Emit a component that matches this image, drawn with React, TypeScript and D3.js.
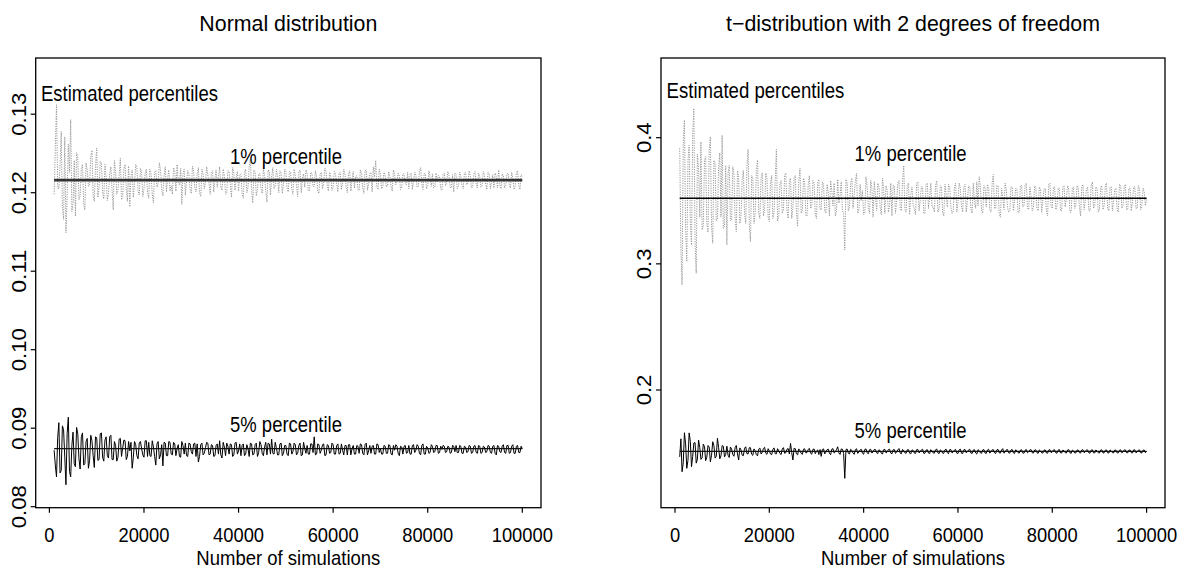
import React from 'react';
import * as d3 from 'd3';

// Number of simulations: main grid and the half-steps between them
const simulations = d3.range(1000, 100001, 500);
const simulationsMid = d3.range(1250, 100000, 500);

// Normal distribution: estimated 1% percentile (grey dotted)
const normalP1 = [
  0.1198, 0.1312, 0.1205, 0.1278, 0.1166, 0.1149, 0.1262, 0.1293, 0.1185, 0.1170,
  0.1245, 0.1196, 0.1236, 0.1178, 0.1228, 0.1211, 0.1254, 0.1189, 0.1257, 0.1206,
  0.1238, 0.1192, 0.1219, 0.1199, 0.1233, 0.1178, 0.1226, 0.1204, 0.1244, 0.1195,
  0.1236, 0.1189, 0.1182, 0.1229, 0.1211, 0.1232, 0.1197, 0.1227, 0.1205, 0.1230,
  0.1193, 0.1224, 0.1187, 0.1228, 0.1212, 0.1229, 0.1196, 0.1233, 0.1218, 0.1202,
  0.1198, 0.1228, 0.1236, 0.1210, 0.1185, 0.1230, 0.1214, 0.1224, 0.1199, 0.1227,
  0.1201, 0.1232, 0.1195, 0.1224, 0.1213, 0.1223, 0.1198, 0.1228, 0.1217, 0.1207,
  0.1233, 0.1203, 0.1221, 0.1200, 0.1227, 0.1194, 0.1225, 0.1219, 0.1202, 0.1224,
  0.1193, 0.1230, 0.1207, 0.1243, 0.1187, 0.1226, 0.1204, 0.1225, 0.1199, 0.1222,
  0.1188, 0.1227, 0.1220, 0.1205, 0.1230, 0.1200, 0.1225, 0.1211, 0.1228, 0.1201,
  0.1226, 0.1198, 0.1222, 0.1195, 0.1229, 0.1218, 0.1207, 0.1224, 0.1203, 0.1225,
  0.1208, 0.1221, 0.1199, 0.1226, 0.1213, 0.1227, 0.1202, 0.1222, 0.1207, 0.1224,
  0.1201, 0.1226, 0.1212, 0.1223, 0.1200, 0.1228, 0.1217, 0.1206, 0.1222, 0.1203,
  0.1225, 0.1199, 0.1229, 0.1211, 0.1226, 0.1233, 0.1241, 0.1204, 0.1224, 0.1208,
  0.1222, 0.1209, 0.1220, 0.1202, 0.1223, 0.1214, 0.1221, 0.1206, 0.1224, 0.1210,
  0.1205, 0.1225, 0.1215, 0.1222, 0.1208, 0.1232, 0.1204, 0.1223, 0.1209, 0.1220,
  0.1224, 0.1207, 0.1214, 0.1221, 0.1203, 0.1225, 0.1212, 0.1222, 0.1206, 0.1201,
  0.1223, 0.1208, 0.1221, 0.1205, 0.1226, 0.1213, 0.1222, 0.1207, 0.1227, 0.1206,
  0.1221, 0.1209, 0.1223, 0.1204, 0.1224, 0.1214, 0.1206, 0.1221, 0.1229, 0.1205,
  0.1222, 0.1209, 0.1225, 0.1206, 0.1219, 0.1208, 0.1228, 0.1204, 0.1220,
];
const normalP1Mid = [
  0.1256, 0.1206, 0.1236, 0.1181, 0.1271, 0.1196, 0.1226, 0.1176, 0.1241, 0.1251,
  0.1191, 0.1231, 0.1186, 0.1238, 0.1208, 0.1246, 0.1196, 0.1234, 0.1194, 0.1240,
  0.1201, 0.1236, 0.1190, 0.1224, 0.1204, 0.1241, 0.1198, 0.1222, 0.1191, 0.1231,
  0.1206, 0.1234, 0.1222, 0.1194, 0.1236, 0.1202, 0.1231, 0.1195, 0.1225, 0.1200,
  0.1230, 0.1198, 0.1226, 0.1207, 0.1238, 0.1203, 0.1222, 0.1201, 0.1229, 0.1209,
  0.1232, 0.1202, 0.1212, 0.1231, 0.1225, 0.1197, 0.1228, 0.1204, 0.1234, 0.1206,
  0.1224, 0.1200, 0.1230, 0.1205, 0.1233, 0.1212, 0.1226, 0.1201, 0.1229, 0.1221,
  0.1207, 0.1230, 0.1198, 0.1228, 0.1210, 0.1232, 0.1203, 0.1227, 0.1222, 0.1199,
  0.1226, 0.1200, 0.1234, 0.1204, 0.1229, 0.1196, 0.1223, 0.1205, 0.1231, 0.1202,
  0.1229, 0.1197, 0.1232, 0.1208, 0.1221, 0.1228, 0.1199, 0.1230, 0.1206, 0.1227,
  0.1204, 0.1230, 0.1209, 0.1227, 0.1200, 0.1224, 0.1229, 0.1202, 0.1226, 0.1208,
  0.1228, 0.1202, 0.1224, 0.1205, 0.1231, 0.1210, 0.1226, 0.1203, 0.1227, 0.1211,
  0.1225, 0.1204, 0.1230, 0.1207, 0.1224, 0.1202, 0.1227, 0.1220, 0.1204, 0.1229,
  0.1206, 0.1228, 0.1203, 0.1224, 0.1201, 0.1220, 0.1207, 0.1230, 0.1205, 0.1226,
  0.1207, 0.1227, 0.1208, 0.1229, 0.1210, 0.1225, 0.1204, 0.1224, 0.1212, 0.1226,
  0.1223, 0.1204, 0.1226, 0.1207, 0.1227, 0.1211, 0.1225, 0.1205, 0.1228, 0.1208,
  0.1206, 0.1225, 0.1222, 0.1205, 0.1224, 0.1209, 0.1227, 0.1207, 0.1223, 0.1225,
  0.1205, 0.1226, 0.1209, 0.1225, 0.1210, 0.1228, 0.1206, 0.1224, 0.1211, 0.1225,
  0.1207, 0.1227, 0.1211, 0.1226, 0.1205, 0.1223, 0.1225, 0.1206, 0.1210, 0.1224,
  0.1206, 0.1224, 0.1210, 0.1226, 0.1204, 0.1225, 0.1209, 0.1223,
];

// Normal distribution: estimated 5% percentile (black)
const normalP5 = [
  0.0872, 0.0838, 0.0907, 0.0846, 0.0898, 0.0828, 0.0914, 0.0838, 0.0895, 0.0851,
  0.0893, 0.0848, 0.0894, 0.0855, 0.0887, 0.0859, 0.0884, 0.0850, 0.0888, 0.0860,
  0.0894, 0.0858, 0.0889, 0.0862, 0.0891, 0.0860, 0.0878, 0.0863, 0.0887, 0.0875,
  0.0884, 0.0864, 0.0871, 0.0849, 0.0883, 0.0865, 0.0881, 0.0874, 0.0863, 0.0884,
  0.0882, 0.0864, 0.0876, 0.0853, 0.0883, 0.0866, 0.0852, 0.0881, 0.0865, 0.0882,
  0.0866, 0.0880, 0.0874, 0.0864, 0.0883, 0.0867, 0.0865, 0.0881, 0.0870, 0.0880,
  0.0864, 0.0857, 0.0879, 0.0866, 0.0875, 0.0881, 0.0867, 0.0878, 0.0865, 0.0880,
  0.0884, 0.0862, 0.0876, 0.0881, 0.0867, 0.0879, 0.0866, 0.0882, 0.0871, 0.0865,
  0.0880, 0.0867, 0.0874, 0.0881, 0.0866, 0.0879, 0.0864, 0.0883, 0.0868, 0.0876,
  0.0866, 0.0880, 0.0886, 0.0867, 0.0875, 0.0866, 0.0881, 0.0868, 0.0878, 0.0865,
  0.0880, 0.0870, 0.0879, 0.0868, 0.0881, 0.0866, 0.0874, 0.0878, 0.0867, 0.0880,
  0.0889, 0.0867, 0.0879, 0.0872, 0.0880, 0.0866, 0.0878, 0.0869, 0.0879, 0.0867,
  0.0880, 0.0868, 0.0872, 0.0878, 0.0866, 0.0879, 0.0874, 0.0867, 0.0878, 0.0868,
  0.0879, 0.0866, 0.0881, 0.0871, 0.0868, 0.0878, 0.0867, 0.0879, 0.0874, 0.0867,
  0.0877, 0.0868, 0.0878, 0.0866, 0.0872, 0.0877, 0.0865, 0.0876, 0.0877, 0.0868,
  0.0878, 0.0867, 0.0879, 0.0872, 0.0877, 0.0866, 0.0880, 0.0867, 0.0875, 0.0869,
  0.0877, 0.0870, 0.0878, 0.0869, 0.0873, 0.0877, 0.0870, 0.0876, 0.0869, 0.0877,
  0.0878, 0.0869, 0.0877, 0.0868, 0.0876, 0.0870, 0.0877, 0.0869, 0.0878, 0.0868,
  0.0877, 0.0869, 0.0876, 0.0870, 0.0877, 0.0868, 0.0878, 0.0866, 0.0877, 0.0869,
  0.0879, 0.0868, 0.0878, 0.0869, 0.0879, 0.0868, 0.0878, 0.0869, 0.0874,
];
const normalP5Mid = [
  0.0853, 0.0888, 0.0843, 0.0903, 0.0863, 0.0893, 0.0845, 0.0878, 0.0855, 0.0901,
  0.0861, 0.0889, 0.0853, 0.0883, 0.0849, 0.0891, 0.0865, 0.0889, 0.0859, 0.0893,
  0.0863, 0.0885, 0.0865, 0.0889, 0.0860, 0.0883, 0.0858, 0.0886, 0.0864, 0.0885,
  0.0860, 0.0883, 0.0882, 0.0863, 0.0879, 0.0861, 0.0883, 0.0866, 0.0884, 0.0864,
  0.0865, 0.0884, 0.0864, 0.0880, 0.0861, 0.0879, 0.0882, 0.0865, 0.0883, 0.0867,
  0.0882, 0.0865, 0.0879, 0.0863, 0.0878, 0.0881, 0.0864, 0.0880, 0.0867, 0.0881,
  0.0880, 0.0864, 0.0881, 0.0868, 0.0882, 0.0866, 0.0879, 0.0864, 0.0878, 0.0867,
  0.0866, 0.0882, 0.0865, 0.0877, 0.0880, 0.0864, 0.0881, 0.0867, 0.0880, 0.0878,
  0.0865, 0.0879, 0.0864, 0.0880, 0.0867, 0.0881, 0.0869, 0.0879, 0.0865, 0.0882,
  0.0881, 0.0867, 0.0868, 0.0882, 0.0866, 0.0880, 0.0865, 0.0878, 0.0867, 0.0881,
  0.0867, 0.0881, 0.0866, 0.0878, 0.0865, 0.0882, 0.0868, 0.0867, 0.0880, 0.0869,
  0.0866, 0.0880, 0.0868, 0.0879, 0.0865, 0.0879, 0.0868, 0.0881, 0.0867, 0.0878,
  0.0867, 0.0880, 0.0866, 0.0878, 0.0879, 0.0866, 0.0878, 0.0867, 0.0877, 0.0880,
  0.0868, 0.0879, 0.0866, 0.0878, 0.0877, 0.0867, 0.0880, 0.0869, 0.0867, 0.0878,
  0.0868, 0.0879, 0.0867, 0.0878, 0.0879, 0.0868, 0.0877, 0.0867, 0.0878, 0.0869,
  0.0867, 0.0878, 0.0869, 0.0879, 0.0868, 0.0878, 0.0867, 0.0877, 0.0868, 0.0879,
  0.0869, 0.0878, 0.0868, 0.0877, 0.0878, 0.0869, 0.0877, 0.0868, 0.0878, 0.0870,
  0.0869, 0.0878, 0.0868, 0.0877, 0.0869, 0.0878, 0.0868, 0.0877, 0.0869, 0.0878,
  0.0868, 0.0877, 0.0869, 0.0878, 0.0869, 0.0877, 0.0868, 0.0878, 0.0870, 0.0877,
  0.0869, 0.0878, 0.0868, 0.0877, 0.0868, 0.0877, 0.0869, 0.0877,
];

// t-distribution (2 df): estimated 1% percentile (grey dotted)
const tP1 = [
  0.3916, 0.2833, 0.4140, 0.3017, 0.3940, 0.3150, 0.4233, 0.2925, 0.3750, 0.3968,
  0.3300, 0.3850, 0.3250, 0.4008, 0.3163, 0.3800, 0.3350, 0.3880, 0.4020, 0.3300,
  0.3150, 0.3780, 0.3350, 0.3720, 0.3255, 0.3690, 0.3380, 0.3740, 0.3320, 0.3908,
  0.3176, 0.3680, 0.3400, 0.3823, 0.3360, 0.3720, 0.3420, 0.3680, 0.3335, 0.3700,
  0.3410, 0.3908, 0.3380, 0.3660, 0.3430, 0.3720, 0.3360, 0.3680, 0.3440, 0.3700,
  0.3295, 0.3757, 0.3420, 0.3650, 0.3380, 0.3700, 0.3450, 0.3640, 0.3360, 0.3670,
  0.3430, 0.3630, 0.3400, 0.3560, 0.3660, 0.3460, 0.3380, 0.3670, 0.3540, 0.3420,
  0.3110, 0.3640, 0.3450, 0.3680, 0.3550, 0.3718, 0.3430, 0.3500, 0.3390, 0.3690,
  0.3440, 0.3660, 0.3370, 0.3540, 0.3640, 0.3450, 0.3680, 0.3400, 0.3580, 0.3460,
  0.3380, 0.3620, 0.3500, 0.3660, 0.3420, 0.3780, 0.3410, 0.3640, 0.3550, 0.3460,
  0.3390, 0.3650, 0.3500, 0.3610, 0.3400, 0.3640, 0.3530, 0.3450, 0.3410, 0.3660,
  0.3440, 0.3610, 0.3380, 0.3540, 0.3630, 0.3450, 0.3420, 0.3640, 0.3490, 0.3600,
  0.3410, 0.3630, 0.3500, 0.3610, 0.3400, 0.3490, 0.3650, 0.3690, 0.3420, 0.3620,
  0.3450, 0.3600, 0.3410, 0.3710, 0.3440, 0.3620, 0.3370, 0.3530, 0.3640, 0.3450,
  0.3420, 0.3610, 0.3500, 0.3590, 0.3410, 0.3620, 0.3460, 0.3640, 0.3430, 0.3540,
  0.3450, 0.3610, 0.3420, 0.3590, 0.3510, 0.3600, 0.3380, 0.3640, 0.3440, 0.3610,
  0.3460, 0.3600, 0.3420, 0.3620, 0.3530, 0.3590, 0.3410, 0.3610, 0.3460, 0.3600,
  0.3380, 0.3630, 0.3500, 0.3610, 0.3420, 0.3650, 0.3460, 0.3600, 0.3430, 0.3620,
  0.3460, 0.3640, 0.3420, 0.3610, 0.3500, 0.3600, 0.3410, 0.3620, 0.3460, 0.3630,
  0.3430, 0.3600, 0.3500, 0.3610, 0.3440, 0.3590, 0.3460, 0.3570, 0.3520,
];
const tP1Mid = [
  0.3120, 0.3970, 0.3270, 0.3820, 0.3320, 0.4020, 0.3170, 0.3870, 0.3370, 0.3270,
  0.3820, 0.3320, 0.3900, 0.3300, 0.3820, 0.3340, 0.3770, 0.3370, 0.3280, 0.3780,
  0.3720, 0.3340, 0.3770, 0.3360, 0.3740, 0.3320, 0.3670, 0.3400, 0.3770, 0.3300,
  0.3700, 0.3320, 0.3740, 0.3400, 0.3680, 0.3380, 0.3720, 0.3370, 0.3640, 0.3360,
  0.3670, 0.3340, 0.3640, 0.3400, 0.3700, 0.3420, 0.3660, 0.3360, 0.3680, 0.3400,
  0.3660, 0.3400, 0.3680, 0.3380, 0.3630, 0.3440, 0.3660, 0.3390, 0.3640, 0.3430,
  0.3650, 0.3420, 0.3630, 0.3380, 0.3580, 0.3640, 0.3420, 0.3480, 0.3650, 0.3400,
  0.3670, 0.3420, 0.3640, 0.3440, 0.3660, 0.3400, 0.3630, 0.3580, 0.3400, 0.3610,
  0.3400, 0.3600, 0.3650, 0.3420, 0.3610, 0.3390, 0.3590, 0.3620, 0.3410, 0.3640,
  0.3620, 0.3400, 0.3640, 0.3440, 0.3650, 0.3430, 0.3620, 0.3390, 0.3610, 0.3440,
  0.3640, 0.3420, 0.3610, 0.3400, 0.3630, 0.3440, 0.3640, 0.3450, 0.3620, 0.3410,
  0.3620, 0.3400, 0.3630, 0.3450, 0.3610, 0.3400, 0.3600, 0.3410, 0.3640, 0.3460,
  0.3610, 0.3410, 0.3620, 0.3430, 0.3640, 0.3440, 0.3460, 0.3620, 0.3400, 0.3600,
  0.3630, 0.3430, 0.3640, 0.3440, 0.3620, 0.3390, 0.3600, 0.3430, 0.3590, 0.3410,
  0.3610, 0.3420, 0.3600, 0.3400, 0.3620, 0.3450, 0.3630, 0.3440, 0.3610, 0.3420,
  0.3620, 0.3440, 0.3610, 0.3410, 0.3590, 0.3420, 0.3630, 0.3450, 0.3610, 0.3430,
  0.3600, 0.3420, 0.3610, 0.3450, 0.3620, 0.3410, 0.3600, 0.3440, 0.3620, 0.3450,
  0.3610, 0.3430, 0.3590, 0.3420, 0.3620, 0.3440, 0.3610, 0.3410, 0.3600, 0.3430,
  0.3620, 0.3440, 0.3610, 0.3420, 0.3590, 0.3430, 0.3630, 0.3440, 0.3610, 0.3430,
  0.3600, 0.3420, 0.3610, 0.3440, 0.3620, 0.3430, 0.3600, 0.3460,
];

// t-distribution (2 df): estimated 5% percentile (black)
const tP5 = [
  0.1470, 0.1352, 0.1661, 0.1379, 0.1660, 0.1392, 0.1580, 0.1420, 0.1603, 0.1450,
  0.1570, 0.1440, 0.1560, 0.1431, 0.1590, 0.1460, 0.1617, 0.1455, 0.1560, 0.1470,
  0.1555, 0.1465, 0.1533, 0.1475, 0.1560, 0.1445, 0.1525, 0.1480, 0.1550, 0.1493,
  0.1542, 0.1482, 0.1519, 0.1478, 0.1540, 0.1505, 0.1546, 0.1490, 0.1518, 0.1487,
  0.1541, 0.1494, 0.1517, 0.1488, 0.1543, 0.1503, 0.1536, 0.1577, 0.1445, 0.1535,
  0.1486, 0.1519, 0.1490, 0.1534, 0.1505, 0.1537, 0.1491, 0.1532, 0.1516, 0.1488,
  0.1474, 0.1533, 0.1507, 0.1531, 0.1487, 0.1535, 0.1509, 0.1550, 0.1489, 0.1530,
  0.1300, 0.1532, 0.1493, 0.1521, 0.1490, 0.1534, 0.1508, 0.1529, 0.1491, 0.1533,
  0.1495, 0.1530, 0.1510, 0.1528, 0.1496, 0.1519, 0.1493, 0.1529, 0.1509, 0.1531,
  0.1494, 0.1528, 0.1507, 0.1536, 0.1495, 0.1516, 0.1498, 0.1527, 0.1494, 0.1521,
  0.1497, 0.1528, 0.1511, 0.1530, 0.1498, 0.1527, 0.1496, 0.1517, 0.1499, 0.1532,
  0.1496, 0.1518, 0.1498, 0.1530, 0.1495, 0.1527, 0.1509, 0.1529, 0.1497, 0.1531,
  0.1496, 0.1528, 0.1510, 0.1530, 0.1497, 0.1527, 0.1492, 0.1519, 0.1498, 0.1528,
  0.1497, 0.1530, 0.1509, 0.1527, 0.1496, 0.1529, 0.1500, 0.1535, 0.1508, 0.1528,
  0.1499, 0.1527, 0.1497, 0.1518, 0.1500, 0.1526, 0.1498, 0.1528, 0.1511, 0.1527,
  0.1500, 0.1526, 0.1498, 0.1517, 0.1500, 0.1525, 0.1499, 0.1527, 0.1510, 0.1526,
  0.1499, 0.1528, 0.1501, 0.1518, 0.1500, 0.1527, 0.1498, 0.1517, 0.1501, 0.1524,
  0.1500, 0.1527, 0.1511, 0.1525, 0.1499, 0.1526, 0.1501, 0.1516, 0.1500, 0.1526,
  0.1502, 0.1525, 0.1500, 0.1517, 0.1501, 0.1524, 0.1502, 0.1526, 0.1510, 0.1525,
  0.1502, 0.1524, 0.1501, 0.1526, 0.1510, 0.1525, 0.1501, 0.1524, 0.1513,
];
const tP5Mid = [
  0.1613, 0.1423, 0.1573, 0.1443, 0.1593, 0.1473, 0.1583, 0.1453, 0.1543, 0.1463,
  0.1553, 0.1468, 0.1548, 0.1483, 0.1558, 0.1473, 0.1543, 0.1478, 0.1553, 0.1488,
  0.1483, 0.1548, 0.1488, 0.1543, 0.1493, 0.1541, 0.1483, 0.1538, 0.1495, 0.1543,
  0.1491, 0.1533, 0.1488, 0.1531, 0.1493, 0.1537, 0.1498, 0.1535, 0.1493, 0.1530,
  0.1495, 0.1535, 0.1497, 0.1533, 0.1498, 0.1531, 0.1493, 0.1503, 0.1538, 0.1495,
  0.1533, 0.1498, 0.1531, 0.1501, 0.1529, 0.1499, 0.1530, 0.1495, 0.1525, 0.1528,
  0.1529, 0.1493, 0.1527, 0.1497, 0.1531, 0.1500, 0.1528, 0.1501, 0.1533, 0.1497,
  0.1528, 0.1499, 0.1530, 0.1500, 0.1527, 0.1497, 0.1525, 0.1499, 0.1529, 0.1501,
  0.1527, 0.1500, 0.1529, 0.1502, 0.1526, 0.1498, 0.1527, 0.1501, 0.1528, 0.1500,
  0.1526, 0.1498, 0.1525, 0.1499, 0.1529, 0.1502, 0.1526, 0.1499, 0.1525, 0.1500,
  0.1527, 0.1501, 0.1526, 0.1498, 0.1524, 0.1500, 0.1527, 0.1501, 0.1526, 0.1502,
  0.1525, 0.1499, 0.1526, 0.1502, 0.1527, 0.1501, 0.1524, 0.1500, 0.1525, 0.1499,
  0.1526, 0.1502, 0.1525, 0.1500, 0.1524, 0.1501, 0.1527, 0.1502, 0.1525, 0.1500,
  0.1524, 0.1500, 0.1525, 0.1502, 0.1526, 0.1501, 0.1524, 0.1499, 0.1525, 0.1502,
  0.1525, 0.1502, 0.1526, 0.1503, 0.1524, 0.1501, 0.1523, 0.1502, 0.1525, 0.1503,
  0.1524, 0.1503, 0.1525, 0.1502, 0.1523, 0.1501, 0.1524, 0.1503, 0.1525, 0.1502,
  0.1523, 0.1501, 0.1524, 0.1503, 0.1525, 0.1502, 0.1523, 0.1501, 0.1524, 0.1503,
  0.1524, 0.1503, 0.1525, 0.1502, 0.1523, 0.1502, 0.1525, 0.1503, 0.1524, 0.1501,
  0.1523, 0.1502, 0.1525, 0.1503, 0.1524, 0.1501, 0.1523, 0.1502, 0.1525, 0.1503,
  0.1524, 0.1503, 0.1525, 0.1502, 0.1523, 0.1502, 0.1523, 0.1503,
];

// True percentile reference lines
const normalRefP1 = 0.1216;
const normalRefP5 = 0.0874;
const tRefP1 = 0.352;
const tRefP5 = 0.1513;

// Tick values / labels
const xTicks = [0, 20000, 40000, 60000, 80000, 100000];
const normalYTicks = [0.08, 0.09, 0.1, 0.11, 0.12, 0.13];
const normalYLabels = ['0.08', '0.09', '0.10', '0.11', '0.12', '0.13'];
const tYTicks = [0.2, 0.3, 0.4];
const tYLabels = ['0.2', '0.3', '0.4'];

const FONT = '"Liberation Sans", Arial, Helvetica, sans-serif';

function emWidth(s: string) {
  let w = 0;
  for (const c of s) w += c === '.' ? 0.278 : 0.556;
  return w;
}

// merge the main grid and the half-step estimates in order of x
function series(main: number[], mid: number[]): [number, number][] {
  const out: [number, number][] = [];
  main.forEach((v, i) => {
    out.push([simulations[i], v]);
    if (i < mid.length) out.push([simulationsMid[i], mid[i]]);
  });
  return out;
}

type PanelProps = {
  box: [number, number, number, number];
  xRange: [number, number];
  yDomain: [number, number];
  yRange: [number, number];
  yTicks: number[];
  yLabels: string[];
  yLabelX: number;
  p1: [number, number][];
  p5: [number, number][];
  ref1: number;
  ref5: number;
  ref1Width: number;
  ref1Color: string;
  title: string;
  titleLen: number;
  est: [number, number, number];
  lab1: [number, number];
  lab5: [number, number];
};

function Panel(props: PanelProps) {
  const [bl, bt, br, bb] = props.box;
  const x = d3.scaleLinear().domain([0, 100000]).range(props.xRange);
  const y = d3.scaleLinear().domain(props.yDomain).range(props.yRange);
  const line = d3
    .line<[number, number]>()
    .x((d) => x(d[0]))
    .y((d) => y(d[1]));
  const cx = (bl + br) / 2;
  const first = simulations[0];
  const last = simulations[simulations.length - 1];
  return (
    <g>
      <text x={cx} y={30.8} textAnchor="middle" fontSize={21.5} fontFamily={FONT} textLength={props.titleLen} lengthAdjust="spacingAndGlyphs">
        {props.title}
      </text>
      <path d={line(props.p1) || ''} fill="none" stroke="#999" strokeWidth={1} strokeDasharray="1.2,1.2" />
      <line x1={x(first)} x2={x(last)} y1={y(props.ref1)} y2={y(props.ref1)} stroke={props.ref1Color} strokeWidth={props.ref1Width} />
      <path d={line(props.p5) || ''} fill="none" stroke="#000" strokeWidth={1} />
      <line x1={x(first)} x2={x(last)} y1={y(props.ref5)} y2={y(props.ref5)} stroke="#111" strokeWidth={1.3} />
      <rect x={bl} y={bt} width={br - bl} height={bb - bt} fill="none" stroke="#000" strokeWidth={1.3} />
      {xTicks.map((t) => (
        <g key={t}>
          <line x1={x(t)} x2={x(t)} y1={bb} y2={bb + 5} stroke="#000" strokeWidth={1.2} />
          <text x={x(t)} y={541.7} textAnchor="middle" fontSize={19.5} fontFamily={FONT} textLength={String(t).length * 10.2} lengthAdjust="spacingAndGlyphs">
            {String(t)}
          </text>
        </g>
      ))}
      {props.yTicks.map((t, i) => (
        <g key={t}>
          <line x1={bl - 5} x2={bl} y1={y(t)} y2={y(t)} stroke="#000" strokeWidth={1.2} />
          <text transform={`translate(${props.yLabelX},${y(t)}) rotate(-90)`} textAnchor="middle" fontSize={20} fontFamily={FONT} textLength={emWidth(props.yLabels[i]) * 22.1} lengthAdjust="spacingAndGlyphs">
            {props.yLabels[i]}
          </text>
        </g>
      ))}
      <text x={props.est[0]} y={props.est[1]} fontSize={21.5} fontFamily={FONT} textLength={props.est[2]} lengthAdjust="spacingAndGlyphs">
        Estimated percentiles
      </text>
      <text x={props.lab1[0]} y={props.lab1[1]} fontSize={21.5} fontFamily={FONT} textLength={112} lengthAdjust="spacingAndGlyphs">
        1% percentile
      </text>
      <text x={props.lab5[0]} y={props.lab5[1]} fontSize={21.5} fontFamily={FONT} textLength={112} lengthAdjust="spacingAndGlyphs">
        5% percentile
      </text>
      <text x={cx} y={564.5} textAnchor="middle" fontSize={21} fontFamily={FONT} textLength={184} lengthAdjust="spacingAndGlyphs">
        Number of simulations
      </text>
    </g>
  );
}

export default function App() {
  return (
    <svg width={1181} height={569} style={{ position: 'absolute', left: 0, top: 0, background: '#fff' }}>
      <rect x={0} y={0} width={1181} height={569} fill="#fff" />
      <Panel
        box={[35.7, 58, 541, 507.7]}
        xRange={[49.4, 522.3]}
        yDomain={[0.08, 0.13]}
        yRange={[506.7, 114.2]}
        yTicks={normalYTicks}
        yLabels={normalYLabels}
        yLabelX={26}
        p1={series(normalP1, normalP1Mid)}
        p5={series(normalP5, normalP5Mid)}
        ref1={normalRefP1}
        ref5={normalRefP5}
        ref1Width={2.6}
        ref1Color="#333"
        title="Normal distribution"
        titleLen={178}
        est={[41, 101, 177]}
        lab1={[230, 164]}
        lab5={[230, 432]}
      />
      <Panel
        box={[661, 58, 1165, 507.7]}
        xRange={[675, 1146.6]}
        yDomain={[0.2, 0.4]}
        yRange={[390, 137.7]}
        yTicks={tYTicks}
        yLabels={tYLabels}
        yLabelX={651.3}
        p1={series(tP1, tP1Mid)}
        p5={series(tP5, tP5Mid)}
        ref1={tRefP1}
        ref5={tRefP5}
        ref1Width={1.6}
        ref1Color="#000"
        title="t−distribution with 2 degrees of freedom"
        titleLen={374}
        est={[666.6, 97.5, 177.7]}
        lab1={[854.6, 160.5]}
        lab5={[854.6, 438]}
      />
    </svg>
  );
}
